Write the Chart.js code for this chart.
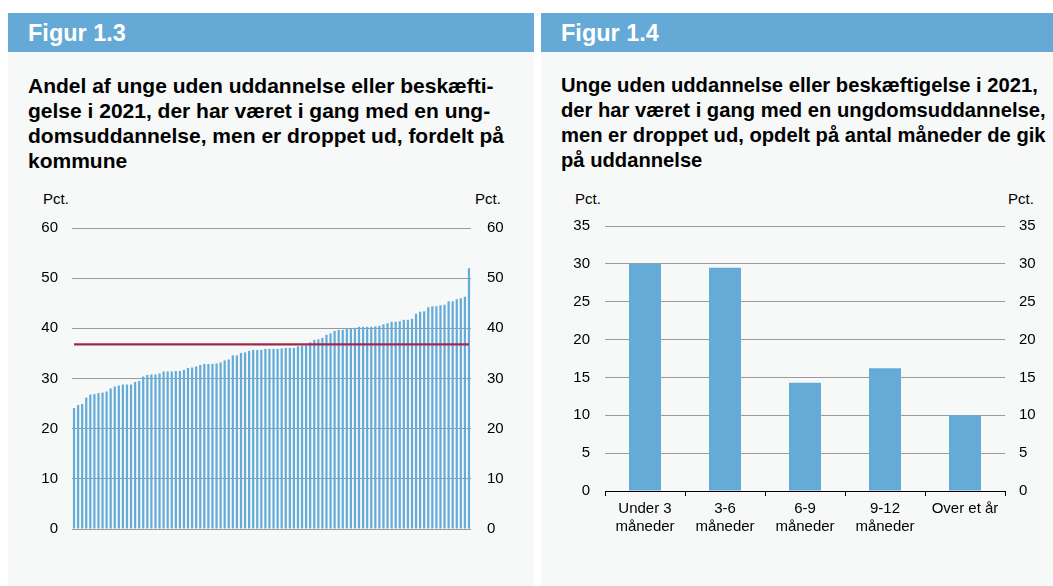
<!DOCTYPE html>
<html lang="da">
<head>
  <meta charset="UTF-8" />
  <title>Figur 1.3 og 1.4</title>
  <script src="https://cdn.jsdelivr.net/npm/chart.js"></script>
  <style>
    html, body { margin: 0; padding: 0; background: #fff; }
    body {
      width: 1053px; height: 586px; position: relative; overflow: hidden;
      font-family: "Liberation Sans", Arial, sans-serif; color: #000;
    }
    .panel { position: absolute; top: 13px; height: 573px; background: #f7f9f9; }
    .head {
      height: 39px; background: #65aad6; color: #fff; font-weight: bold;
      font-size: 23.5px; line-height: 40px; padding-left: 20px;
    }
    .title {
      position: absolute; top: 60px; left: 20px;
      font-weight: bold; font-size: 21px; line-height: 25px; white-space: nowrap;
    }
    .unit { position: absolute; top: 190px; font-size: 15px; }
    canvas { position: absolute; }
  </style>
</head>
<body>
  <div class="panel" style="left:8px;width:526px;">
    <div class="head">Figur 1.3</div>
    <div class="title">Andel af unge uden uddannelse eller beskæfti-<br>gelse i 2021, der har været i gang med en ung-<br>domsuddannelse, men er droppet ud, fordelt på<br>kommune</div>
  </div>
  <div class="panel" style="left:541px;width:512px;">
    <div class="head">Figur 1.4</div>
    <div class="title" style="font-size:20.2px;">Unge uden uddannelse eller beskæftigelse i 2021,<br>der har været i gang med en ungdomsuddannelse,<br>men er droppet ud, opdelt på antal måneder de gik<br>på uddannelse</div>
  </div>

  <div class="unit" style="left:43px;">Pct.</div>
  <div class="unit" style="left:475px;">Pct.</div>
  <div class="unit" style="left:575px;">Pct.</div>
  <div class="unit" style="left:1008px;">Pct.</div>

  <canvas id="kommuner" width="500" height="347" style="left:20px;top:205px;"></canvas>
  <canvas id="maaneder" width="495" height="343" style="left:553px;top:202px;"></canvas>

  <script>
    // Figur 1.3: andel pr. kommune (sorteret), pct.
    const kommuneAndel = [
      24.1, 24.7, 24.9, 26.2, 26.8, 26.9, 27.1, 27.2, 27.4, 28.0,
      28.4, 28.6, 28.8, 28.8, 28.8, 29.3, 29.5, 30.4, 30.7, 30.8,
      30.8, 31.0, 31.4, 31.4, 31.4, 31.5, 31.5, 31.7, 32.1, 32.2,
      32.4, 32.7, 32.9, 32.9, 32.9, 33.0, 33.2, 33.6, 33.8, 34.6,
      34.6, 35.1, 35.2, 35.5, 35.7, 35.7, 35.7, 35.9, 35.9, 35.9,
      35.9, 36.0, 36.1, 36.1, 36.1, 36.4, 36.5, 36.6, 37.2, 37.7,
      37.8, 38.1, 38.7, 39.0, 39.5, 39.7, 39.7, 39.9, 40.0, 40.1,
      40.3, 40.3, 40.3, 40.3, 40.4, 40.5, 40.8, 41.0, 41.3, 41.3,
      41.4, 41.7, 41.7, 41.9, 42.9, 43.3, 43.4, 44.2, 44.4, 44.4,
      44.6, 44.7, 45.4, 45.4, 45.8, 46.0, 46.3, 52.0
    ];
    const landsgennemsnit = 36.8;
    const kommuneLabels = kommuneAndel.map((_, i) => String(i + 1));

    // Figur 1.4: antal måneder på uddannelse, pct.
    const maanedKategorier = [
      ['Under 3', 'måneder'], ['3-6', 'måneder'], ['6-9', 'måneder'],
      ['9-12', 'måneder'], 'Over et år'
    ];
    const maanedAndel = [30.0, 29.5, 14.3, 16.2, 10.0];

    const blaa = '#65abd7';
    const gitter = '#9b9b9b';

    Chart.defaults.font.family = '"Liberation Sans", Arial, sans-serif';
    Chart.defaults.font.size = 15;
    Chart.defaults.color = '#000';
    Chart.defaults.animation = false;

    const fixWidth = w => scale => { scale.width = w; };

    new Chart(document.getElementById('kommuner'), {
      data: {
        labels: kommuneLabels,
        datasets: [
          {
            type: 'line',
            data: kommuneLabels.map(() => landsgennemsnit),
            borderColor: '#a0284f',
            borderWidth: 2.2,
            pointRadius: 0,
            order: 0
          },
          {
            type: 'bar',
            data: kommuneAndel,
            backgroundColor: blaa,
            barPercentage: 0.55,
            categoryPercentage: 1,
            order: 1
          }
        ]
      },
      options: {
        responsive: false,
        layout: { padding: 0 },
        plugins: { legend: { display: false }, tooltip: { enabled: false } },
        scales: {
          x: { display: false },
          y: {
            min: 0, max: 60,
            ticks: { stepSize: 10, padding: 14 },
            grid: { color: gitter, drawTicks: false },
            border: { display: false },
            afterFit: fixWidth(52)
          },
          y2: {
            position: 'right',
            min: 0, max: 60,
            ticks: { stepSize: 10, padding: 8 },
            grid: { display: false },
            border: { display: false },
            afterFit: fixWidth(49)
          }
        }
      }
    });

    new Chart(document.getElementById('maaneder'), {
      type: 'bar',
      data: {
        labels: maanedKategorier,
        datasets: [{
          data: maanedAndel,
          backgroundColor: blaa,
          barPercentage: 0.4,
          categoryPercentage: 1
        }]
      },
      options: {
        responsive: false,
        layout: { padding: 0 },
        plugins: { legend: { display: false }, tooltip: { enabled: false } },
        scales: {
          x: {
            grid: { offset: true, drawOnChartArea: false, drawTicks: true, tickLength: 5, color: '#000' },
            border: { color: '#000', width: 1 },
            ticks: { padding: 4, maxRotation: 0, font: { lineHeight: 1.2 } },
            afterFit: scale => { scale.height = 54; }
          },
          y: {
            min: 0, max: 35,
            ticks: { stepSize: 5, padding: 15 },
            grid: { color: gitter, drawTicks: false },
            border: { display: false },
            afterFit: fixWidth(52)
          },
          y2: {
            position: 'right',
            min: 0, max: 35,
            ticks: { stepSize: 5, padding: 6 },
            grid: { display: false },
            border: { display: false },
            afterFit: fixWidth(43)
          }
        }
      }
    });
  </script>
</body>
</html>
